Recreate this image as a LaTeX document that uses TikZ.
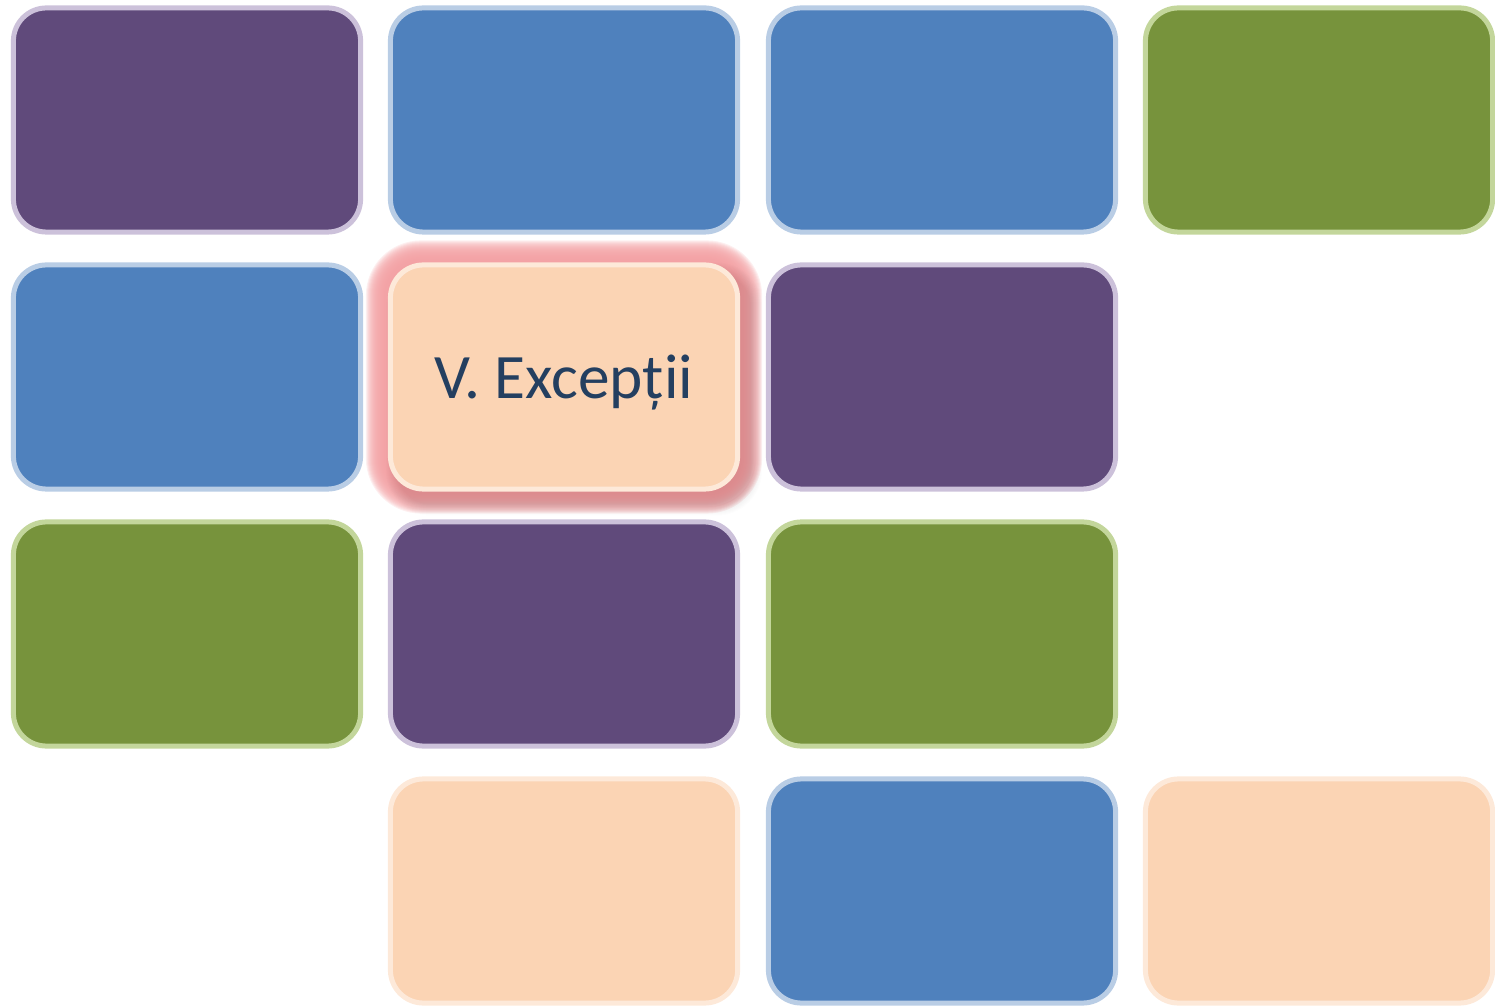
\documentclass[tikz,border=0pt]{standalone}
\usepackage{fontspec}
\setmainfont{Carlito}
\usetikzlibrary{backgrounds}
\definecolor{mov}{HTML}{604A7B}
\definecolor{movmargine}{HTML}{CCC1DA}
\definecolor{albastru}{HTML}{4F81BD}
\definecolor{albastrumargine}{HTML}{B9CDE5}
\definecolor{verde}{HTML}{77933C}
\definecolor{verdemargine}{HTML}{C3D69B}
\definecolor{piersica}{HTML}{FBD4B4}
\definecolor{piersicamargine}{HTML}{FDE9D9}
\definecolor{textbleu}{HTML}{243F60}
\definecolor{stralucire}{HTML}{F3A0A3}
\tikzset{
    cutie/.style 2 args={rectangle, rounded corners=0.33cm, line width=0.05cm, minimum width=3.47cm, minimum height=2.24cm, inner sep=0pt, fill=#1, draw=#2}
}
\begin{document}
\begin{tikzpicture}[x=0.01cm,y=-0.01cm]
                \useasboundingbox (0,0) rectangle (1495,1007);
                \foreach \x/\y/\c/\m/\n in {187/120/mov/movmargine/c11, 564/120/albastru/albastrumargine/c12, 942/120/albastru/albastrumargine/c13, 1319/120/verde/verdemargine/c14,
                    187/377/albastru/albastrumargine/c21, 942/377/mov/movmargine/c23,
                    187/634/verde/verdemargine/c31, 564/634/mov/movmargine/c32, 942/634/verde/verdemargine/c33,
                    564/891/piersica/piersicamargine/c42, 942/891/albastru/albastrumargine/c43, 1319/891/piersica/piersicamargine/c44}{
                    \node[cutie={\c}{\m}] (\n) at (\x,\y) {};}
                \node[cutie={piersica}{piersicamargine}, text=textbleu, font=\fontsize{18}{22}\selectfont, text height=12pt, text depth=0pt] (c22) at (564,377) {V. Excepții};
                \begin{scope}[on background layer]
                %\fill[white] (0,0) rectangle (1495,1007);
                \foreach \g in {22,21,...,1}{
                    \fill[stralucire, opacity=0.16, rounded corners=0.33cm+\g*0.01cm] ([shift={(-\g,-\g)}]c22.north west) rectangle ([shift={(\g,\g)}]c22.south east);}
                \foreach \g in {12,11,...,1}{
                    \fill[black, opacity=0.009, rounded corners=0.33cm+\g*0.01cm] ([shift={(10-\g,12-\g)}]c22.north west) rectangle ([shift={(10+\g,12+\g)}]c22.south east);}
                \end{scope}
\end{tikzpicture}
\end{document}
